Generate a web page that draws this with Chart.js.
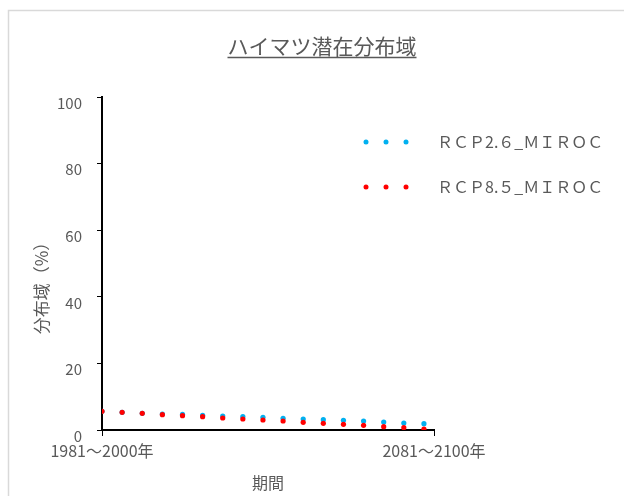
<!DOCTYPE html>
<html>
<head>
<meta charset="utf-8">
<script src="https://cdn.jsdelivr.net/npm/chart.js@4/dist/chart.umd.min.js"></script>
<style>
  body { margin: 0; background: #fff; }
  #wrap { width: 624px; height: 496px; }
</style>
</head>
<body>
<div id="wrap"><canvas id="chart" width="624" height="496"></canvas></div>
<script>
// 期間ごとの潜在分布域（%）
const chartTitle = 'ハイマツ潜在分布域';
const yAxisTitle = '分布域（%）';
const seriesNames = ['ＲＣＰ2.６_ＭＩＲＯＣ', 'ＲＣＰ8.５_ＭＩＲＯＣ'];
const rcp26 = [5.6, 5.3, 5.0, 4.8, 4.7, 4.4, 4.2, 4.0, 3.8, 3.5, 3.3, 3.1, 2.9, 2.7, 2.4, 2.1, 1.9];
const rcp85 = [5.6, 5.3, 5.0, 4.6, 4.3, 4.0, 3.6, 3.3, 3.0, 2.7, 2.3, 2.0, 1.7, 1.4, 1.0, 0.7, 0.3];
const xTickValues = [0, 16.5];
const xTickLabels = ['1981〜2000年', '2081〜2100年'];
const yTicks = [0, 20, 40, 60, 80, 100];

const COLORS = {
    blue: '#00B0F0',
    red: '#FF0000',
    text: '#595959',
    frame: '#D9D9D9'
};
const FONT = "'Noto Sans CJK JP', 'Noto Sans', sans-serif";

const toPoints = arr => arr.map((v, i) => ({ x: i, y: v }));

// 枠・タイトル下線・縦軸ラベル・凡例
const decorPlugin = {
    id: 'decor',
    beforeDraw(chart) {
        const ctx = chart.ctx;
        ctx.save();
        ctx.strokeStyle = COLORS.frame;
        ctx.lineWidth = 1.5;
        ctx.strokeRect(8.5, 10.5, 800, 800);
        ctx.restore();
    },
    afterDraw(chart) {
        const ctx = chart.ctx;
        ctx.save();
        // title
        ctx.font = '21px ' + FONT;
        ctx.fillStyle = COLORS.text;
        ctx.textAlign = 'center';
        ctx.textBaseline = 'middle';
        ctx.fillText(chartTitle, 322, 46);
        const w = ctx.measureText(chartTitle).width;
        ctx.strokeStyle = COLORS.text;
        ctx.lineWidth = 1.5;
        ctx.beginPath();
        ctx.moveTo(322 - w / 2, 57.5);
        ctx.lineTo(322 + w / 2, 57.5);
        ctx.stroke();
        // y axis title
        ctx.save();
        ctx.translate(42, 284);
        ctx.rotate(-Math.PI / 2);
        ctx.font = '17px ' + FONT;
        ctx.fillText(yAxisTitle, 0, 0);
        ctx.restore();
        // legend
        const rows = [142, 187];
        chart.data.datasets.forEach((ds, i) => {
            const y = rows[i];
            ctx.fillStyle = ds.backgroundColor;
            [366, 386, 406].forEach(x => {
                ctx.beginPath();
                ctx.arc(x, y, 2.5, 0, Math.PI * 2);
                ctx.fill();
            });
            ctx.fillStyle = COLORS.text;
            ctx.font = '16px ' + FONT;
            ctx.textAlign = 'left';
            ctx.fillText(ds.label, 437, y);
        });
        ctx.restore();
    }
};

new Chart(document.getElementById('chart'), {
    type: 'scatter',
    data: {
        datasets: [
            { label: seriesNames[0], data: toPoints(rcp26), order: 1, backgroundColor: COLORS.blue, borderColor: COLORS.blue, pointRadius: 2.6, pointBorderWidth: 0 },
            { label: seriesNames[1], data: toPoints(rcp85), order: 0, backgroundColor: COLORS.red, borderColor: COLORS.red, pointRadius: 2.6, pointBorderWidth: 0 }
        ]
    },
    options: {
        responsive: false,
        animation: false,
        layout: { padding: { left: 0, top: 97, right: 190, bottom: 0 } },
        plugins: {
            legend: { display: false },
            title: { display: false },
            tooltip: { enabled: false }
        },
        scales: {
            x: {
                type: 'linear',
                min: 0,
                max: xTickValues[1],
                afterFit: s => { s.height = 66; },
                afterBuildTicks: s => { s.ticks = xTickValues.map(v => ({ value: v })); },
                border: { color: '#000', width: 2 },
                grid: { drawOnChartArea: false, drawTicks: true, tickLength: 6, color: '#000', lineWidth: 1 },
                ticks: {
                    color: COLORS.text,
                    font: { family: FONT, size: 16 },
                    padding: 5,
                    maxRotation: 0,
                    autoSkip: false,
                    callback: (v) => xTickLabels[xTickValues.indexOf(v)]
                },
                title: {
                    display: true,
                    text: '期間',
                    color: COLORS.text,
                    font: { family: FONT, size: 16 },
                    padding: { top: 0, bottom: 3 }
                }
            },
            y: {
                min: 0,
                max: 100,
                afterFit: s => { s.width = 102; },
                afterBuildTicks: s => { s.ticks = yTicks.map(v => ({ value: v })); },
                border: { color: '#000', width: 2 },
                grid: { drawOnChartArea: false, drawTicks: true, tickLength: 5, color: '#000', lineWidth: 1 },
                ticks: {
                    color: COLORS.text,
                    font: { family: FONT, size: 15 },
                    padding: 15,
                    labelOffset: 6
                },
                title: { display: false }
            }
        }
    },
    plugins: [decorPlugin]
});
</script>
</body>
</html>
